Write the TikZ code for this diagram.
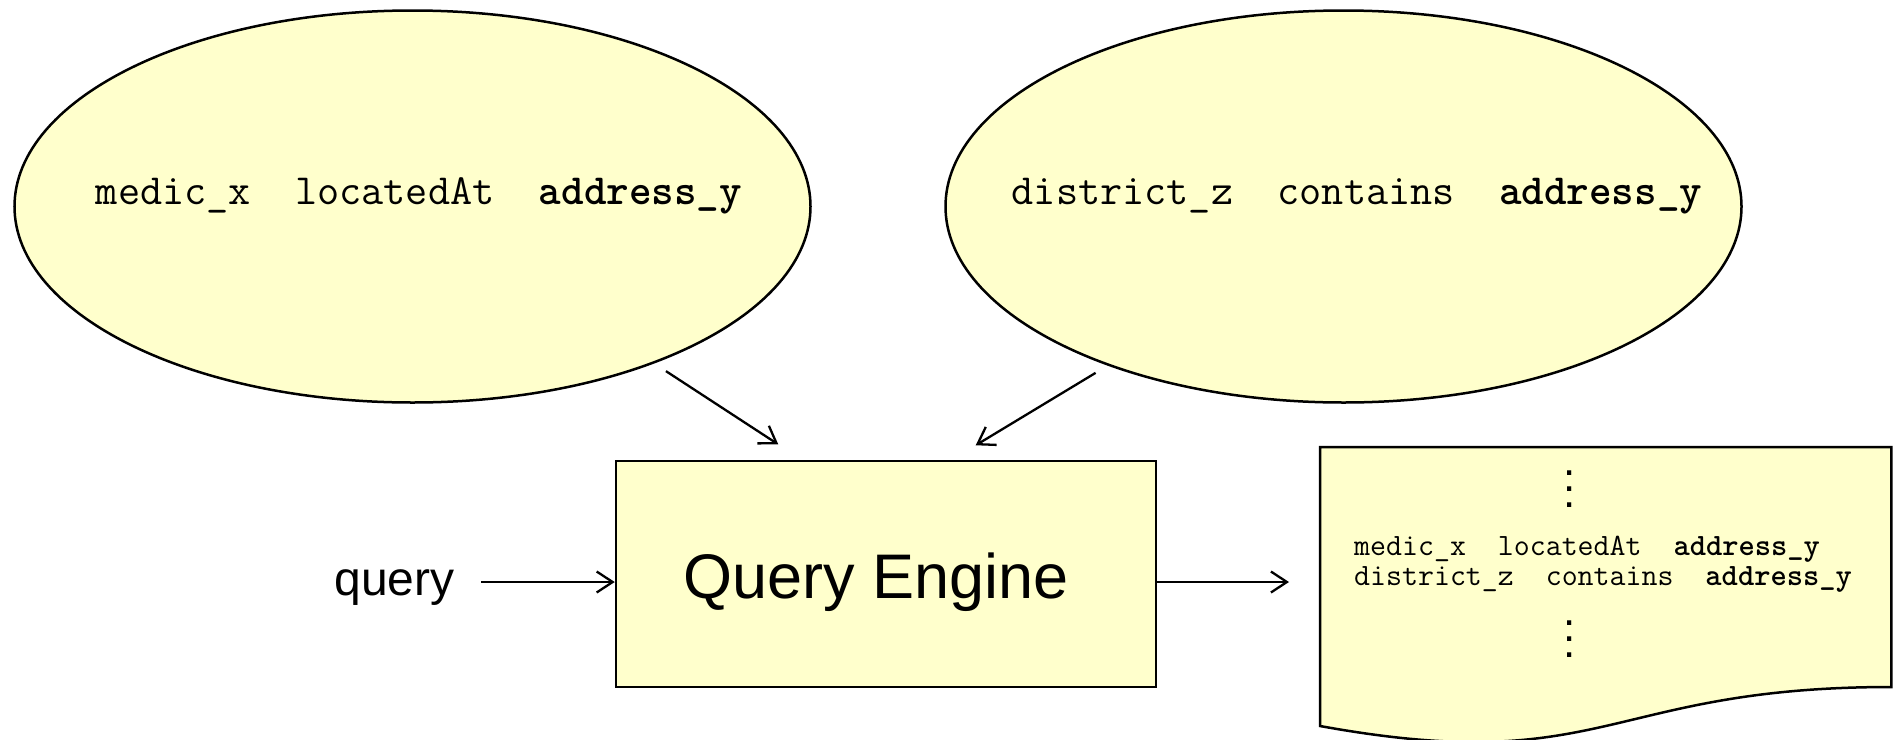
\documentclass[tikz,border=0pt]{standalone}
\usepackage{fontspec}
\setmainfont{Liberation Sans}
\usetikzlibrary{shapes.geometric,arrows.meta,calc}
\definecolor{paleyellow}{RGB}{255,255,204}
\begin{document}
\begin{tikzpicture}[x=1pt,y=-1pt,
  fact/.style={ellipse, draw, line width=2.5pt, fill=paleyellow, minimum width=796pt, minimum height=392pt, inner sep=0pt},
  engine/.style={rectangle, draw, line width=2.5pt, fill=paleyellow, minimum width=540pt, minimum height=226pt, inner sep=0pt},
  arr/.style={line width=2.3pt, -{Straight Barb[length=16pt,width=21pt]}},
  tt/.style={font=\ttfamily\fontsize{43}{48}\selectfont, inner sep=0pt, anchor=base},
  doctext/.style={font=\ttfamily\fontsize{31}{30}\selectfont, inner sep=0pt, anchor=base west},
  dotnode/.style={font=\fontsize{44}{16}\selectfont, inner sep=0pt, anchor=north, align=center},
  sanslabel/.style={inner sep=0pt, anchor=base}
]
\useasboundingbox (0,0) rectangle (1894,739);

% fact ellipses
\node[fact] (le) at (412.5,206.5) {};
\node[fact] (re) at (1343.5,206.5) {};
\node[tt] (lt) at (419,204) {medic\_x\ \ locatedAt\ \ \textbf{address\_y}};
\node[tt] (rt) at (1357,204) {district\_z\ \ contains\ \ \textbf{address\_y}};

% query engine
\node[engine] (qe) at (886,574) {};
\node[sanslabel, font=\fontsize{63}{70}\selectfont] (qet) at (876,598) {Query Engine};

% query label
\node[sanslabel, font=\fontsize{48}{56}\selectfont] (q) at (394.5,595) {query};
\coordinate (qin) at (481,582);

% result document
\node[draw=none, minimum width=571pt, minimum height=299pt, inner sep=0pt, anchor=north west] (doc) at (1320,447) {};
\draw[line width=2.5pt, fill=paleyellow, line join=miter]
  (doc.north west) -- (doc.north east) -- ($(doc.north east)+(0,240)$)
  .. controls ($(doc.north)+(0,240)$) and ($(doc.north)+(0,331)$) .. ($(doc.north west)+(0,279)$) -- cycle;
\node[doctext] (d1) at (1354,555) {medic\_x\ \ locatedAt\ \ \textbf{address\_y}};
\node[doctext] (d2) at (1354,585) {district\_z\ \ contains\ \ \textbf{address\_y}};
\node[dotnode] (dtop) at (1570,470.5) {.\\.\\.};
\node[dotnode] (dbot) at (1570,620.5) {.\\.\\.};

% connectors
\draw[arr, shorten <=14pt, shorten >=28pt] (le.-33.7) -- ($(qe.north west)+(187,0)$);
\draw[arr, shorten <=14pt, shorten >=28pt] (re.-146.15) -- ($(qe.north west)+(337,0)$);
\draw[arr] (qin) -- (qin -| qe.west);
\draw[arr] (qin -| qe.east) -- ($(qin -| doc.west)+(-31,0)$);
\end{tikzpicture}
\end{document}
